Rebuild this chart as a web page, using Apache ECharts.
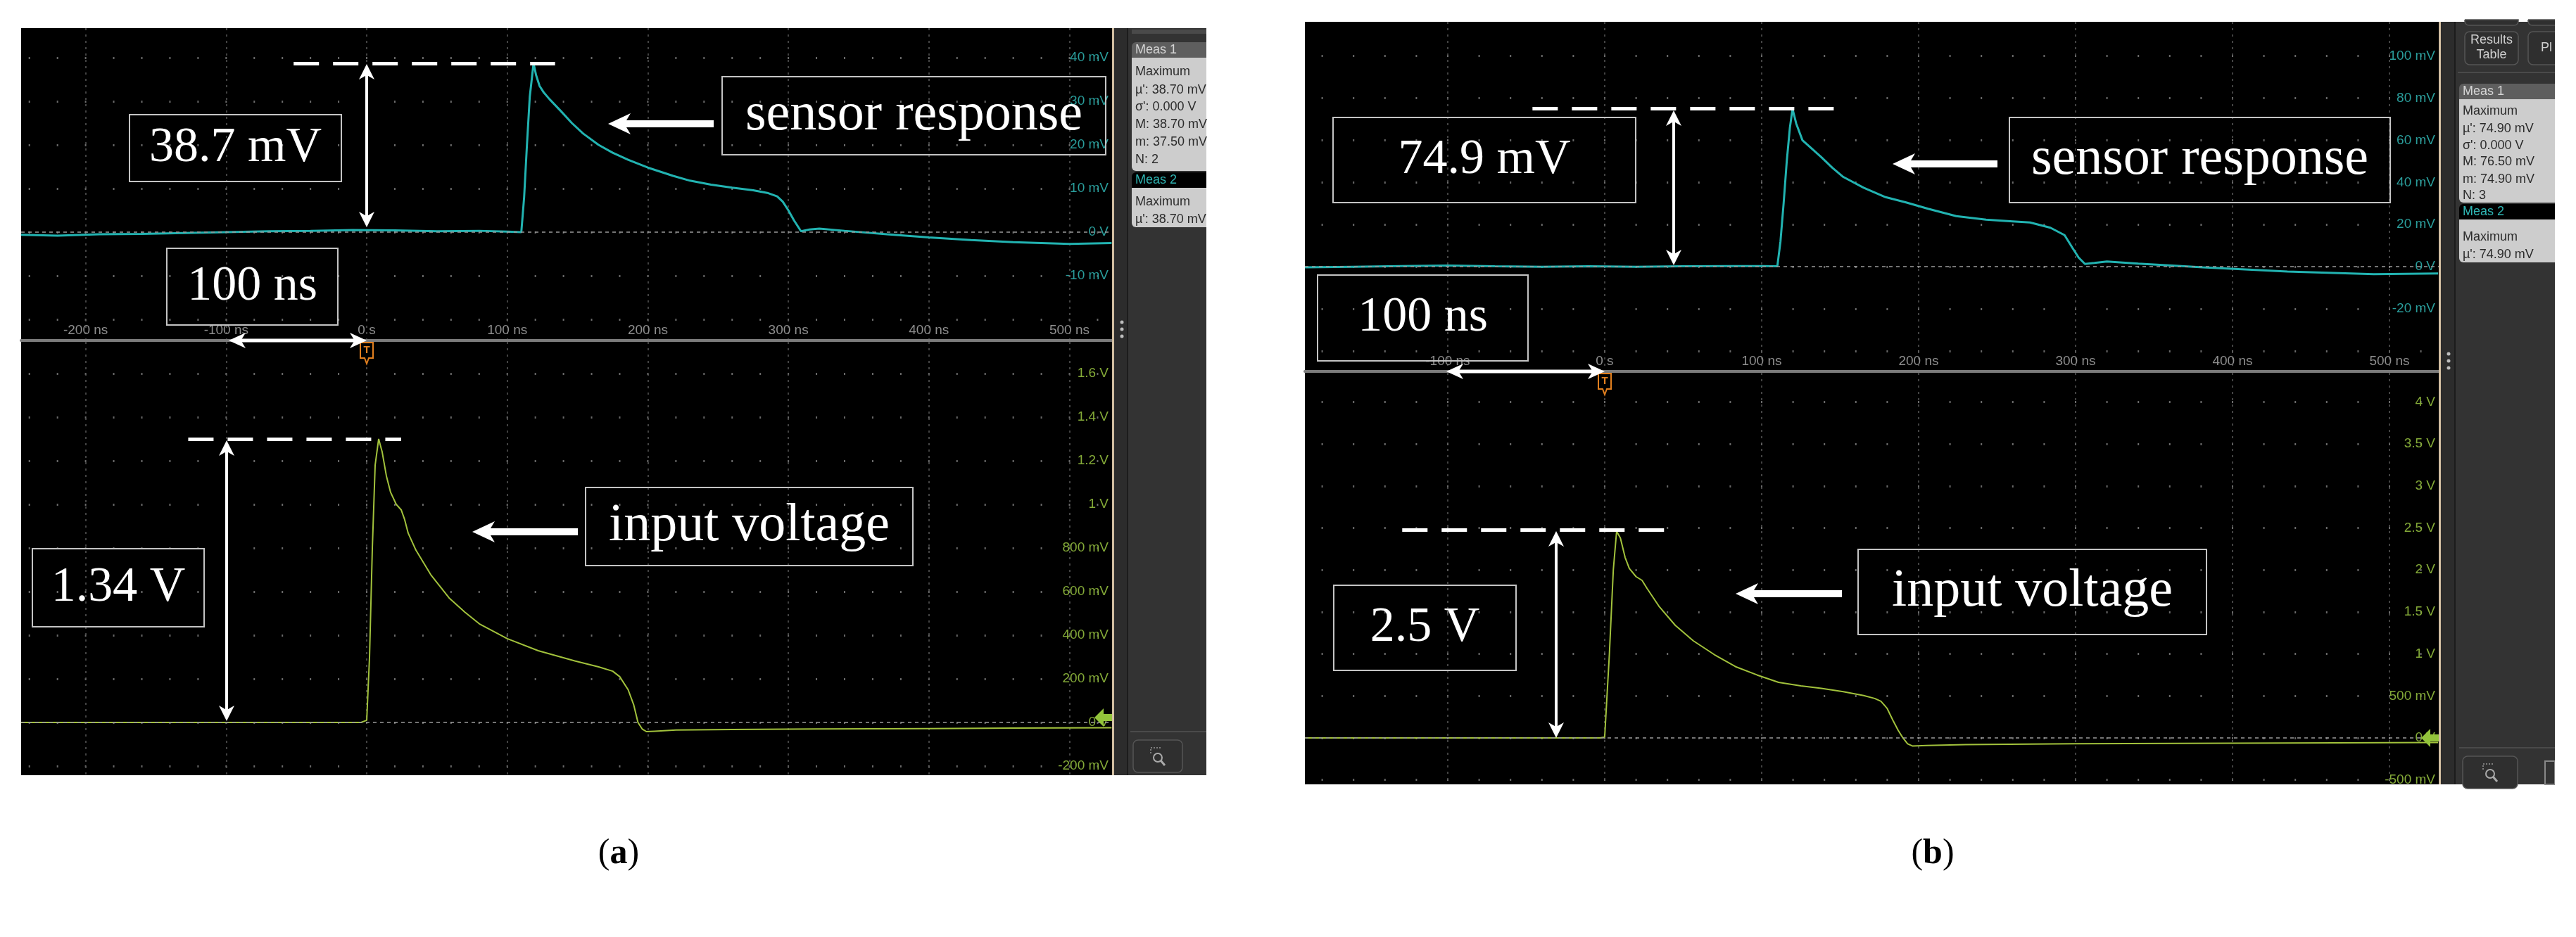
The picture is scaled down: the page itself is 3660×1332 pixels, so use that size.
<!DOCTYPE html>
<html>
<head>
<meta charset="utf-8">
<title>sensor response / input voltage</title>
<script src="https://cdn.jsdelivr.net/npm/echarts@6/dist/echarts.min.js"></script>
<style>
  html, body { margin: 0; padding: 0; background: #fff; }
  #main { width: 3660px; height: 1332px; }
</style>
</head>
<body>
<div id="main"></div>
<script>
// values (time in ns, level in mV)
var sensorATime = [-246, -220, -190, -160, -130, -100, -70, -40, -10, 20, 50, 80, 100, 110, 112, 114, 116, 118.7, 120.5, 123, 126, 130, 138, 146, 154, 165, 175, 186, 200, 218, 230, 245, 260, 275, 285, 292, 296, 300, 304, 309, 315, 322, 340, 370, 400, 430, 460, 500, 530];
var sensorAValue = [-0.6, -0.8, -0.5, -0.4, -0.2, 0.0, 0.2, 0.3, 0.5, 0.4, 0.2, 0.3, 0.1, 0.0, 8, 20, 31, 38.7, 36, 33.5, 32, 30.5, 27.8, 25, 22.6, 20, 18.2, 16.6, 14.8, 12.9, 11.8, 10.9, 10.2, 9.6, 9.0, 8.2, 7.0, 5.0, 2.7, 0.2, 0.6, 0.8, 0.3, -0.5, -1.2, -1.8, -2.3, -2.7, -2.5];

var inputATime = [-246, -150, -50, -4, 0, 2, 4, 6, 8.5, 11, 14, 17, 21, 24.5, 27, 29.5, 35, 45.6, 58.6, 70, 80.6, 100, 122, 148, 165, 175, 180, 186, 190, 193, 196, 199, 205, 220, 260, 320, 400, 460, 530];
var inputAValue = [0, 0, 0, 0, 10, 300, 800, 1180, 1300, 1240, 1130, 1055, 1000, 975, 930, 868, 790, 677, 571, 505, 450, 384, 329, 282, 255, 235, 210, 150, 80, 0, -30, -42, -40, -35, -32, -30, -28, -26, -24];

var sensorBTime = [-191, -160, -130, -100, -70, -40, -10, 20, 50, 80, 100, 110, 112, 114, 116, 118, 119.7, 122, 126, 132, 138, 145, 152, 165, 179, 192, 206, 224, 243, 260, 271, 284, 293, 298, 302, 306, 312, 320, 340, 381, 435, 490, 531];
var sensorBValue = [-0.3, 0.0, 0.3, 0.6, 0.2, 0.0, 0.2, 0.0, 0.2, 0.3, 0.3, 0.2, 12, 30, 50, 66, 74.9, 68, 60, 56, 52, 47, 42.6, 37.5, 33, 30.5, 27.5, 24, 22.3, 21.5, 21, 18.5, 15, 9, 4.3, 1.3, 1.8, 2.5, 1.5, -0.3, -2.3, -3.5, -3.2];

var inputBTime = [-191, -150, -50, -3, 0, 3, 5.5, 7.6, 10, 13, 15.7, 20, 23.8, 27, 34.5, 45, 56.5, 70, 83.4, 97, 110.8, 125, 138, 152, 165, 172, 176, 180, 184, 187, 190, 193, 196, 205, 230, 300, 400, 531];
var inputBValue = [0, 0, 0, 0, 10, 1000, 2000, 2460, 2380, 2150, 2018, 1920, 1876, 1780, 1570, 1340, 1156, 990, 848, 750, 662, 620, 590, 550, 505, 470, 436, 350, 196, 90, 0, -70, -96, -90, -80, -70, -62, -55];

// tick labels shown on the scope graticules
var timeTicksA = [-200, -100, 0, 100, 200, 300, 400, 500];
var timeTicksB = [-100, 0, 100, 200, 300, 400, 500];
var sensorATicks = [40, 30, 20, 10, 0, -10];
var inputATicks = [1600, 1400, 1200, 1000, 800, 600, 400, 200, 0, -200];
var sensorBTicks = [100, 80, 60, 40, 20, 0, -20];
var inputBTicks = [4000, 3500, 3000, 2500, 2000, 1500, 1000, 500, 0, -500];

// measurement read-outs and annotation values
var measA = ['Maximum', "\u00b5': 38.70 mV", "\u03c3': 0.000 V", 'M: 38.70 mV', 'm: 37.50 mV', 'N: 2'];
var measA2 = ['Maximum', "\u00b5': 38.70 mV"];
var measB = ['Maximum', "\u00b5': 74.90 mV", "\u03c3': 0.000 V", 'M: 76.50 mV', 'm: 74.90 mV', 'N: 3'];
var measB2 = ['Maximum', "\u00b5': 74.90 mV"];
var peakA = 38.7, peakInA = 1300, peakB = 74.9, peakInB = 2480;

var SERIF = '"Liberation Serif", "Times New Roman", serif';
var NARROW = '"Liberation Sans Narrow", "Liberation Sans", sans-serif';
var SANS = '"Liberation Sans", Arial, sans-serif';

var chart = echarts.init(document.getElementById('main'));

function zip(t, v) {
  return t.map(function(x, i) { return [x, v[i]]; });
}

function fmtTime(v) { return v === 0 ? '0 s' : v + ' ns'; }
function fmtMilli(v) { return v === 0 ? '0 V' : v + ' mV'; }
function fmtVolt(v) {
  if (v === 0) return '0 V';
  return Math.abs(v) >= 1000 ? (v / 1000) + ' V' : v + ' mV';
}

// only label the ticks that the scope labels
function pick(list, fmt) {
  return function(v) {
    for (var i = 0; i < list.length; i++) {
      if (Math.abs(list[i] - v) < 1e-6) return fmt(v);
    }
    return '';
  };
}

function timeAxis(gi, min, max, split, ticks, labels) {
  return {
    type: 'value', gridIndex: gi, min: min, max: max, splitNumber: split,
    axisLine: { show: labels, onZero: false, lineStyle: { color: '#7b7b7b', width: 4 } },
    axisTick: { show: false },
    axisLabel: {
      show: labels, inside: true, margin: 5, verticalAlign: 'bottom',
      color: '#8e8e8e', fontFamily: NARROW, fontSize: 19,
      formatter: pick(ticks, fmtTime)
    },
    splitLine: {
      show: true, showMinLine: false, showMaxLine: false,
      lineStyle: { color: '#5a5a5a', width: 1.5, type: [3, 6] }
    }
  };
}

function levelAxis(gi, min, max, split, ticks, fmt, color, period, offset) {
  return {
    type: 'value', gridIndex: gi, min: min, max: max, splitNumber: split, position: 'right',
    axisLine: { show: false, onZero: false }, axisTick: { show: false },
    axisLabel: {
      inside: true, margin: 5, align: 'right',
      color: color, fontFamily: NARROW, fontSize: 19,
      formatter: pick(ticks, fmt)
    },
    splitLine: {
      show: true, showMinLine: false, showMaxLine: false,
      lineStyle: { color: '#6a6a6a', width: 3, type: [2, period - 2], dashOffset: offset }
    }
  };
}

function trace(name, xi, data, color, width, peakLine) {
  return {
    type: 'line', name: name, xAxisIndex: xi, yAxisIndex: xi, data: data,
    symbol: 'none', showSymbol: false, animation: false, z: 3,
    lineStyle: { color: color, width: width }, itemStyle: { color: color },
    markLine: {
      silent: true, symbol: 'none', animation: false, label: { show: false },
      data: [
        { yAxis: 0, lineStyle: { color: '#9a9a9a', type: [5, 5], width: 1.5 } },
        [
          { coord: [peakLine[0], peakLine[2]], lineStyle: { color: '#fff', width: 5, type: [36, 20] } },
          { coord: [peakLine[1], peakLine[2]] }
        ]
      ]
    }
  };
}

function box(label, x, y, w, h, size) {
  return [
    { type: 'rect', shape: { x: x, y: y, width: w, height: h }, style: { fill: 'none', stroke: '#c4c4c4', lineWidth: 2 }, z: 50 },
    { type: 'text', x: x + w / 2, y: y + h / 2, z: 51,
      style: { text: label, fill: '#fff', font: size + 'px ' + SERIF, align: 'center', verticalAlign: 'middle' } }
  ];
}

function arrow(x1, y1, x2, y2, both, shaft, headLen, headHalf) {
  var dx = x2 - x1, dy = y2 - y1, L = Math.sqrt(dx * dx + dy * dy);
  var ux = dx / L, uy = dy / L;
  function head(tx, ty, sx, sy) {
    var bx = tx - sx * headLen, by = ty - sy * headLen;
    var nx = tx - sx * headLen * 0.72, ny = ty - sy * headLen * 0.72;
    return {
      type: 'polygon', z: 52, style: { fill: '#fff' },
      shape: { points: [[tx, ty], [bx - sy * headHalf, by + sx * headHalf], [nx, ny], [bx + sy * headHalf, by - sx * headHalf]] }
    };
  }
  var ax = both ? x1 + ux * headLen * 0.7 : x1, ay = both ? y1 + uy * headLen * 0.7 : y1;
  var out = [
    { type: 'line', z: 52, style: { stroke: '#fff', lineWidth: shaft },
      shape: { x1: ax, y1: ay, x2: x2 - ux * headLen * 0.7, y2: y2 - uy * headLen * 0.7 } },
    head(x2, y2, ux, uy)
  ];
  if (both) out.push(head(x1, y1, -ux, -uy));
  return out;
}

function trigger(x, y) {
  return [
    { type: 'polygon', z: 40, style: { fill: '#000', stroke: '#e3801f', lineWidth: 2 },
      shape: { points: [[x - 9, y], [x + 9, y], [x + 9, y + 22], [x + 3, y + 22], [x, y + 30], [x - 3, y + 22], [x - 9, y + 22]] } },
    { type: 'text', x: x, y: y + 11, z: 41,
      style: { text: 'T', fill: '#e3801f', font: 'bold 15px ' + SANS, align: 'center', verticalAlign: 'middle' } }
  ];
}

function ground(xr, y) {
  return {
    type: 'polygon', z: 40, style: { fill: '#93c43b' },
    shape: { points: [[xr - 25, y], [xr - 12, y - 13], [xr - 12, y - 5], [xr, y - 5], [xr, y + 5], [xr - 12, y + 5], [xr - 12, y + 13]] }
  };
}

function zoomButton(x, y, w, h) {
  var cx = x + w / 2, cy = y + h / 2;
  return [
    { type: 'rect', z: 30, shape: { x: x, y: y, width: w, height: h, r: 7 }, style: { fill: '#2f2f2f', stroke: '#555', lineWidth: 1.5 } },
    { type: 'polyline', z: 31, shape: { points: [[cx - 10, cy - 4], [cx - 10, cy - 12], [cx + 4, cy - 12]] }, style: { stroke: '#999', lineWidth: 1.5, lineDash: [2, 2], fill: 'none' } },
    { type: 'circle', z: 31, shape: { cx: cx, cy: cy + 2, r: 6 }, style: { fill: 'none', stroke: '#aaa', lineWidth: 2 } },
    { type: 'line', z: 31, shape: { x1: cx + 4, y1: cy + 6, x2: cx + 10, y2: cy + 13 }, style: { stroke: '#aaa', lineWidth: 3 } }
  ];
}

function measBlock(x, w, y, title, titleFill, titleColor, lines, boxH, lineY) {
  var out = [
    { type: 'rect', z: 30, shape: { x: x, y: y, width: w, height: 22, r: [6, 0, 0, 0] }, style: { fill: titleFill } },
    { type: 'text', z: 31, x: x + 5, y: y + 11, style: { text: title, fill: titleColor, font: '18px ' + SANS, verticalAlign: 'middle' } },
    { type: 'rect', z: 30, shape: { x: x, y: y + 22, width: w, height: boxH, r: [0, 0, 0, 6] }, style: { fill: '#cdcdcd' } }
  ];
  lines.forEach(function(s, i) {
    out.push({ type: 'text', z: 31, x: x + 5, y: lineY[i],
      style: { text: s, fill: '#2b2b2b', font: '18px ' + SANS, verticalAlign: 'middle' } });
  });
  return out;
}

function sidePanel(edge, strip, right, top, bottom) {
  return [
    { type: 'rect', z: 20, shape: { x: edge, y: top, width: right - edge, height: bottom - top }, style: { fill: '#2c2c2c' } },
    { type: 'rect', z: 21, shape: { x: strip, y: top, width: right - strip, height: bottom - top }, style: { fill: '#333333' } },
    { type: 'line', z: 22, shape: { x1: strip, y1: top, x2: strip, y2: bottom }, style: { stroke: '#1c1c1c', lineWidth: 2 } },
    { type: 'line', z: 22, shape: { x1: edge + 1.5, y1: top, x2: edge + 1.5, y2: bottom }, style: { stroke: '#d2bfa2', lineWidth: 3 } }
  ];
}

function dots(x, y) {
  return [0, 10, 20].map(function(d) {
    return { type: 'circle', z: 30, shape: { cx: x, cy: y + d, r: 2.5 }, style: { fill: '#bdbdbd' } };
  });
}

var g = [];
// panel (a) side
g = g.concat(sidePanel(1580, 1602, 1714, 40, 1102));
g.push({ type: 'rect', z: 30, shape: { x: 1608, y: 42, width: 106, height: 6 }, style: { fill: '#4a4a4a' } });
g = g.concat(measBlock(1608, 106, 60, 'Meas 1', '#5e5e5e', '#d5d5d5', measA, 161, [102, 128, 152, 177, 202, 227]));
g = g.concat(measBlock(1608, 106, 245, 'Meas 2', '#000', '#2fb6b4', measA2, 56, [287, 312]));
g = g.concat(dots(1594, 458));
g.push({ type: 'line', z: 30, shape: { x1: 1606, y1: 1040, x2: 1714, y2: 1040 }, style: { stroke: '#4a4a4a', lineWidth: 2 } });
g = g.concat(zoomButton(1610, 1052, 70, 46));

// panel (b) side
g = g.concat(sidePanel(3465, 3488, 3630, 31, 1115));
g.push({ type: 'rect', z: 30, shape: { x: 3502, y: 28, width: 76, height: 8, r: [0, 0, 6, 6] }, style: { fill: '#2f2f2f', stroke: '#555', lineWidth: 1.5 } });
g.push({ type: 'rect', z: 30, shape: { x: 3592, y: 28, width: 50, height: 8, r: [0, 0, 6, 6] }, style: { fill: '#2f2f2f', stroke: '#555', lineWidth: 1.5 } });
g.push({ type: 'rect', z: 30, shape: { x: 3502, y: 45, width: 76, height: 47, r: 7 }, style: { fill: '#2f2f2f', stroke: '#555', lineWidth: 1.5 } });
g.push({ type: 'text', z: 31, x: 3540, y: 68, style: { text: 'Results\nTable', fill: '#cfcfcf', font: '18px ' + SANS, lineHeight: 21, align: 'center', verticalAlign: 'middle' } });
g.push({ type: 'rect', z: 30, shape: { x: 3592, y: 45, width: 60, height: 47, r: 7 }, style: { fill: '#2f2f2f', stroke: '#555', lineWidth: 1.5 } });
g.push({ type: 'text', z: 31, x: 3610, y: 68, style: { text: 'Pl', fill: '#cfcfcf', font: '18px ' + SANS, verticalAlign: 'middle' } });
g.push({ type: 'line', z: 30, shape: { x1: 3492, y1: 103, x2: 3630, y2: 103 }, style: { stroke: '#4a4a4a', lineWidth: 2 } });
g = g.concat(measBlock(3494, 136, 119, 'Meas 1', '#5e5e5e', '#d5d5d5', measB, 147, [158, 183, 207, 230, 255, 278]));
g = g.concat(measBlock(3494, 136, 290, 'Meas 2', '#000', '#2fb6b4', measB2, 61, [337, 362]));
g = g.concat(dots(3479, 503));
g.push({ type: 'line', z: 30, shape: { x1: 3494, y1: 1063, x2: 3630, y2: 1063 }, style: { stroke: '#4a4a4a', lineWidth: 2 } });
g = g.concat(zoomButton(3499, 1075, 78, 46));
g.push({ type: 'rect', z: 31, shape: { x: 3616, y: 1082, width: 14, height: 33 }, style: { fill: 'none', stroke: '#888', lineWidth: 2 } });
// white page outside the (b) screenshot
g.push({ type: 'rect', z: 35, shape: { x: 3630, y: 0, width: 30, height: 1332 }, style: { fill: '#fff' } });

// scope markers
g = g.concat(trigger(521, 487));
g = g.concat(trigger(2280, 531));
g.push(ground(1580, 1020));
g.push(ground(3465, 1049));

// annotations (a)
g = g.concat(box('38.7 mV', 184, 163, 301, 95, 70));
g = g.concat(box('100 ns', 237, 353, 243, 109, 70));
g = g.concat(box('sensor response', 1026, 109, 545, 111, 76));
g = g.concat(box('1.34 V', 46, 780, 244, 111, 70));
g = g.concat(box('input voltage', 832, 693, 465, 111, 76));
g = g.concat(arrow(1014, 176, 864, 176, false, 10, 32, 15));
g = g.concat(arrow(821, 756, 671, 756, false, 10, 32, 15));
g = g.concat(arrow(325, 484, 521, 484, true, 5, 24, 11));
g = g.concat(arrow(521, 323, 521, 91, true, 4, 22, 11));
g = g.concat(arrow(322, 1025, 322, 626, true, 4, 22, 11));

// annotations (b)
g = g.concat(box('74.9 mV', 1894, 167, 430, 121, 70));
g = g.concat(box('100 ns', 1872, 391, 299, 122, 70));
g = g.concat(box('sensor response', 2855, 167, 541, 121, 76));
g = g.concat(box('2.5 V', 1895, 832, 259, 121, 70));
g = g.concat(box('input voltage', 2640, 781, 495, 121, 76));
g = g.concat(arrow(2838, 233, 2689, 233, false, 10, 32, 15));
g = g.concat(arrow(2617, 844, 2466, 844, false, 10, 32, 15));
g = g.concat(arrow(2055, 528, 2280, 528, true, 5, 24, 11));
g = g.concat(arrow(2378, 377, 2378, 157, true, 4, 22, 11));
g = g.concat(arrow(2211, 1049, 2211, 755, true, 4, 22, 11));

// sub-figure captions
[['a', 879], ['b', 2746]].forEach(function(c) {
  g.push({
    type: 'text', x: c[1], y: 1214, z: 60,
    style: {
      text: '{p|(}{b|' + c[0] + '}{p|)}', align: 'center', verticalAlign: 'middle',
      rich: {
        p: { font: '50px ' + SERIF, fill: '#000', color: '#000' },
        b: { font: 'bold 50px ' + SERIF, fill: '#000', color: '#000' }
      }
    }
  });
});

var gridBase = { show: true, backgroundColor: '#000', borderWidth: 0, outerBoundsMode: 'none' };

chart.setOption({
  backgroundColor: '#fff',
  animation: false,
  grid: [
    Object.assign({ left: 30, top: 40, width: 1550, height: 444 }, gridBase),
    Object.assign({ left: 30, top: 486, width: 1550, height: 616 }, gridBase),
    Object.assign({ left: 1854, top: 31, width: 1611, height: 497 }, gridBase),
    Object.assign({ left: 1854, top: 530, width: 1611, height: 585 }, gridBase)
  ],
  xAxis: [
    timeAxis(0, -245.9, 530.3, 8, timeTicksA, true),
    timeAxis(1, -245.9, 530.3, 8, timeTicksA, false),
    timeAxis(2, -191.0, 531.4, 7, timeTicksB, true),
    timeAxis(3, -191.0, 531.4, 7, timeTicksB, false)
  ],
  yAxis: [
    levelAxis(0, -24.84, 46.77, 7, sensorATicks, fmtMilli, '#2a9e9c', 39.94, 29.2),
    levelAxis(1, -242, 1745, 10, inputATicks, fmtVolt, '#84aa38', 39.94, 29.2),
    levelAxis(2, -49.67, 116.2, 8, sensorBTicks, fmtMilli, '#2a9e9c', 44.6, 21.0),
    levelAxis(3, -553, 4347, 10, inputBTicks, fmtVolt, '#84aa38', 44.6, 21.0)
  ],
  series: [
    trace('sensor response (a)', 0, zip(sensorATime, sensorAValue), '#22b3b1', 3, [-52, 134, peakA]),
    trace('input voltage (a)', 1, zip(inputATime, inputAValue), '#a2c23c', 2, [-127, 24.5, peakInA]),
    trace('sensor response (b)', 2, zip(sensorBTime, sensorBValue), '#22b3b1', 3, [-46, 153, peakB]),
    trace('input voltage (b)', 3, zip(inputBTime, inputBValue), '#a2c23c', 2, [-129, 38.6, peakInB])
  ],
  graphic: g
});
</script>
</body>
</html>
